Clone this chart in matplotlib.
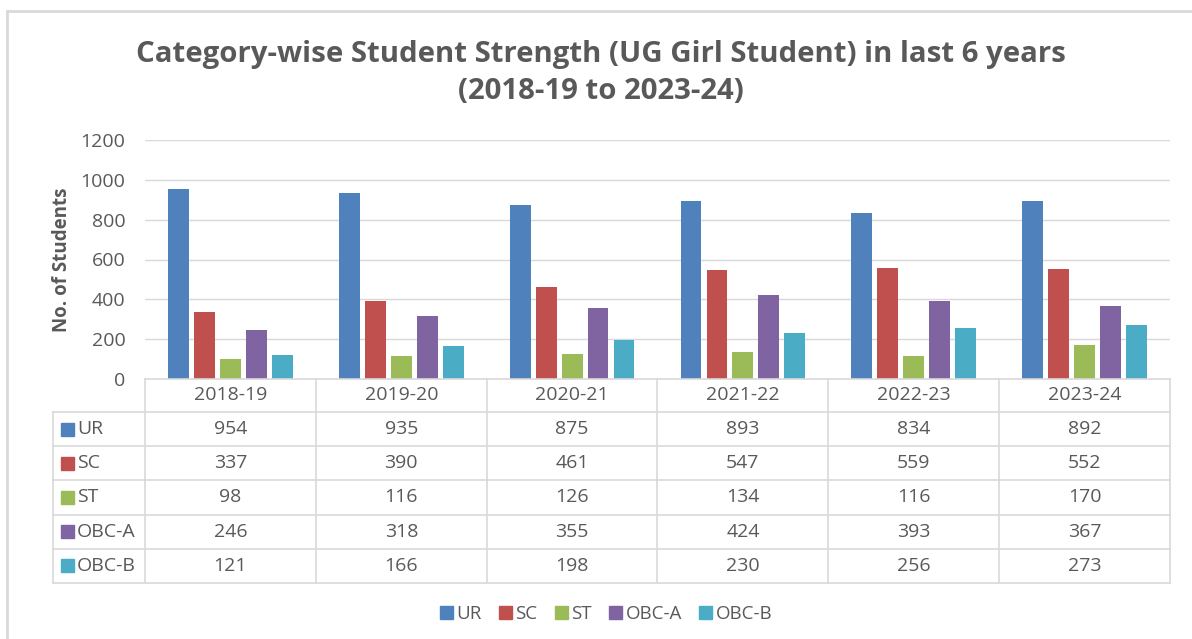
import matplotlib
matplotlib.use("Agg")
import matplotlib.pyplot as plt
import numpy as np
from matplotlib.lines import Line2D
from matplotlib.patches import Rectangle

years = ["2018-19", "2019-20", "2020-21", "2021-22", "2022-23", "2023-24"]
categories = ["UR", "SC", "ST", "OBC-A", "OBC-B"]
ur = [954, 935, 875, 893, 834, 892]
sc = [337, 390, 461, 547, 559, 552]
st = [98, 116, 126, 134, 116, 170]
obc_a = [246, 318, 355, 424, 393, 367]
obc_b = [121, 166, 198, 230, 256, 273]
series = [ur, sc, st, obc_a, obc_b]
colors = ["#4F81BD", "#C0504D", "#9BBB59", "#8064A2", "#4BACC6"]

title = "Category-wise Student Strength (UG Girl Student) in last 6 years\n(2018-19 to 2023-24)"
ylabel = "No. of Students"

plt.rcParams['font.family'] = ['Open Sans', 'DejaVu Sans']
TXT = "#595959"
GRID = "#D9D9D9"

W, H = 1192, 639
fig = plt.figure(figsize=(W / 100, H / 100), dpi=100)

def fx(px):
    return px / W

def fy(py):
    return 1 - py / H

# axes region in pixels
ax_l, ax_r, ax_t, ax_b = 145, 1170, 140, 379
ax = fig.add_axes([fx(ax_l), fy(ax_b), fx(ax_r - ax_l), fy(ax_t) - fy(ax_b)])

n = len(years)
x = np.arange(n)
bw = 0.122
step = 0.152
for i, (vals, c) in enumerate(zip(series, colors)):
    ax.bar(x + (i - 2) * step, vals, width=bw, color=c, zorder=3)

ax.set_xlim(-0.5, n - 0.5)
ax.set_ylim(0, 1200)
ax.set_yticks(range(0, 1201, 200))
ax.yaxis.grid(True, color=GRID, linewidth=1, zorder=0)
for s in ax.spines.values():
    s.set_visible(False)
ax.tick_params(axis='y', length=0, labelsize=14, labelcolor=TXT, pad=14)
ax.tick_params(axis='x', length=0, labelbottom=False)
ax.set_ylabel(ylabel, fontsize=13.5, color=TXT, fontweight='bold', labelpad=6)

fig.text(fx(601), fy(73), title, ha='center', va='center', fontsize=21.2,
         fontweight='bold', color=TXT, linespacing=1.36)

# data table
col_w = (ax_r - ax_l) / n
lab_l = 53
hdr_t, hdr_b = 379, 412
row_h = (583 - 412) / len(categories)
line_kw = dict(color=GRID, linewidth=1.2, transform=fig.transFigure)

# horizontal lines
fig.add_artist(Line2D([fx(ax_l), fx(ax_r)], [fy(hdr_t), fy(hdr_t)], **line_kw))
for r in range(len(categories) + 1):
    yy = hdr_b + r * row_h
    fig.add_artist(Line2D([fx(lab_l), fx(ax_r)], [fy(yy), fy(yy)], **line_kw))
# vertical lines
fig.add_artist(Line2D([fx(lab_l), fx(lab_l)], [fy(hdr_b), fy(583)], **line_kw))
for c in range(n + 1):
    xx = ax_l + c * col_w
    fig.add_artist(Line2D([fx(xx), fx(xx)], [fy(hdr_t), fy(583)], **line_kw))

TS = 14
for c, yr in enumerate(years):
    fig.text(fx(ax_l + (c + 0.5) * col_w), fy((hdr_t + hdr_b) / 2), yr,
             ha='center', va='center', fontsize=TS, color=TXT)

for r, (cat, vals, col) in enumerate(zip(categories, series, colors)):
    yc = hdr_b + (r + 0.5) * row_h
    fig.add_artist(Rectangle((fx(61), fy(yc + 6.5)), fx(13), fy(yc - 6.5) - fy(yc + 6.5),
                             transform=fig.transFigure, color=col))
    fig.text(fx(77), fy(yc), cat, ha='left', va='center', fontsize=TS, color=TXT)
    for c, v in enumerate(vals):
        fig.text(fx(ax_l + (c + 0.5) * col_w), fy(yc), str(v),
                 ha='center', va='center', fontsize=TS, color=TXT)

# legend
handles = [Rectangle((0, 0), 1, 1, color=c) for c in colors]
fig.legend(handles, categories, loc='center', bbox_to_anchor=(fx(606), fy(614)),
           ncol=5, frameon=False, fontsize=13.5, handlelength=0.7, handleheight=0.7,
           handletextpad=0.2, columnspacing=0.9, labelcolor=TXT)

# outer border
bk = dict(color="#D9D9D9", linewidth=2, transform=fig.transFigure)
fig.add_artist(Line2D([fx(7), 1], [fy(11), fy(11)], **bk))
fig.add_artist(Line2D([fx(7), fx(7)], [fy(11), 0], **bk))

fig.savefig("out.png", dpi=100, facecolor='white')
